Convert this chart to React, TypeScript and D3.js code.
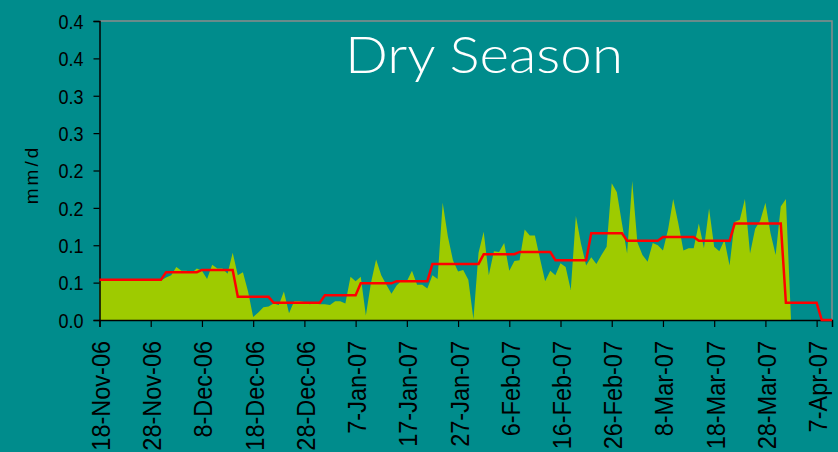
import { useEffect, useRef } from "react";
import * as d3 from "d3";

const startDate = "2006-11-18";
const endDate = "2007-04-10";

// daily values (mm/d), one per day from 18-Nov-06
const dailyRain = [
  0.053, 0.053, 0.053, 0.053, 0.053, 0.053, 0.053, 0.053, 0.053, 0.053, 0.053, 0.053, 0.053,
  0.057, 0.06, 0.071, 0.066, 0.066, 0.063, 0.069, 0.066, 0.055, 0.074, 0.069, 0.069, 0.062, 0.09,
  0.06, 0.064, 0.038, 0.004, 0.01, 0.017, 0.018, 0.022, 0.02, 0.038, 0.009, 0.025, 0.025, 0.024,
  0.021, 0.022, 0.021, 0.021, 0.02, 0.025, 0.025, 0.022, 0.058, 0.052, 0.058, 0.006, 0.05, 0.081,
  0.06, 0.047, 0.035, 0.046, 0.053, 0.052, 0.066, 0.047, 0.047, 0.042, 0.06, 0.055, 0.157, 0.112,
  0.08, 0.065, 0.067, 0.054, 0.001, 0.09, 0.118, 0.06, 0.092, 0.091, 0.103, 0.066, 0.079, 0.08,
  0.121, 0.113, 0.113, 0.082, 0.052, 0.066, 0.06, 0.076, 0.071, 0.04, 0.139, 0.102, 0.073, 0.084,
  0.075, 0.087, 0.098, 0.183, 0.171, 0.129, 0.089, 0.186, 0.104, 0.087, 0.078, 0.103, 0.1, 0.093,
  0.121, 0.162, 0.129, 0.093, 0.096, 0.096, 0.129, 0.096, 0.149, 0.098, 0.092, 0.107, 0.073, 0.131,
  0.134, 0.162, 0.089, 0.122, 0.133, 0.157, 0.116, 0.087, 0.152, 0.162, 0,
];

// period means (red line)
const periodStart = [
  "2006-11-18", "2006-12-01", "2006-12-08", "2006-12-15", "2006-12-22", "2007-01-01", "2007-01-08",
  "2007-01-15", "2007-01-22", "2007-02-01", "2007-02-08", "2007-02-15", "2007-02-22", "2007-03-01",
  "2007-03-08", "2007-03-15", "2007-03-22", "2007-04-01", "2007-04-08",
];
const periodEnd = [
  "2006-11-30", "2006-12-07", "2006-12-14", "2006-12-21", "2006-12-31", "2007-01-07", "2007-01-14",
  "2007-01-21", "2007-01-31", "2007-02-07", "2007-02-14", "2007-02-21", "2007-02-28", "2007-03-07",
  "2007-03-14", "2007-03-21", "2007-03-31", "2007-04-07", "2007-04-10",
];
const periodMean = [
  0.054, 0.064, 0.067, 0.031, 0.023, 0.033, 0.049, 0.052, 0.075, 0.088, 0.091, 0.08, 0.116, 0.106,
  0.111, 0.106, 0.129, 0.023, 0,
];

const xTickDates = [
  "2006-11-18", "2006-11-28", "2006-12-08", "2006-12-18", "2006-12-28", "2007-01-07", "2007-01-17",
  "2007-01-27", "2007-02-06", "2007-02-16", "2007-02-26", "2007-03-08", "2007-03-18", "2007-03-28",
  "2007-04-07",
];
const yTicks = [0, 0.05, 0.1, 0.15, 0.2, 0.25, 0.3, 0.35, 0.4];

const W = 838;
const H = 452;
const margin = { top: 21, right: 6, bottom: 132, left: 99.5 };

export default function App() {
  const ref = useRef<SVGSVGElement>(null);

  useEffect(() => {
    if (!ref.current) return;
    const svg = d3.select(ref.current);
    svg.selectAll("*").remove();

    const parse = d3.timeParse("%Y-%m-%d");
    const t0 = parse(startDate)!;

    const x = d3.scaleTime()
      .domain([t0, parse(endDate)!])
      .range([margin.left, W - margin.right]);
    const y = d3.scaleLinear()
      .domain([0, 0.4])
      .range([H - margin.bottom, margin.top]);

    svg.append("rect").attr("width", W).attr("height", H).attr("fill", "#008c8c");

    // rainfall area
    const area = d3.area<number>()
      .x((_, i) => x(d3.timeDay.offset(t0, i)))
      .y0(y(0))
      .y1((d) => y(d));
    svg.append("path")
      .datum(dailyRain)
      .attr("fill", "#9ecb00")
      .attr("d", area);

    // frame (top + right)
    svg.append("path")
      .attr("d", `M${x.range()[0]},${y(0.4)}H${x.range()[1]}V${y(0)}`)
      .attr("fill", "none")
      .attr("stroke", "#8a8a8a")
      .attr("stroke-width", 1.5);

    // y axis
    svg.append("g")
      .attr("transform", `translate(${margin.left},0)`)
      .call(d3.axisLeft(y).tickValues(yTicks).tickSize(6).tickPadding(16)
        .tickFormat((d) => (Math.round((d as number) * 10) / 10).toFixed(1)))
      .call((g) => {
        g.select(".domain").attr("stroke", "#000").attr("stroke-width", 1.5);
        g.selectAll(".tick line").attr("stroke", "#000").attr("stroke-width", 1.2);
        g.selectAll(".tick text")
          .attr("fill", "#000")
          .attr("font-family", "'Liberation Sans', Arial, sans-serif")
          .attr("font-size", "18px")
          .attr("x", 0)
          .attr("dy", "0.36em")
          .attr("transform", "translate(-16,0) scale(1,1.12)");
      });

    // x axis
    svg.append("g")
      .attr("transform", `translate(0,${y(0)})`)
      .call(d3.axisBottom(x).tickValues(xTickDates.map((s) => parse(s)!)).tickSize(7)
        .tickFormat((d) => d3.timeFormat("%-d-%b-%y")(d as Date)))
      .call((g) => {
        g.select(".domain").attr("stroke", "#000").attr("stroke-width", 1.5);
        g.selectAll(".tick line").attr("stroke", "#000").attr("stroke-width", 1.2);
        g.selectAll(".tick text")
          .attr("fill", "#000")
          .attr("font-family", "'Liberation Sans', Arial, sans-serif")
          .attr("font-size", "23.5px")
          .attr("text-anchor", "end")
          .attr("x", 0)
          .attr("y", 0)
          .attr("dy", 0)
          .attr("transform", "translate(10,21) rotate(-90) scale(1,1.1)");
      });

    // period mean line
    const pts: [Date, number][] = [];
    periodMean.forEach((v, i) => {
      pts.push([parse(periodStart[i])!, v]);
      pts.push([parse(periodEnd[i])!, v]);
    });
    svg.append("path")
      .datum(pts)
      .attr("fill", "none")
      .attr("stroke", "#ff0000")
      .attr("stroke-width", 2.5)
      .attr("d", d3.line<[Date, number]>().x((d) => x(d[0])).y((d) => y(d[1])));

    // axis title
    svg.append("text")
      .attr("transform", `translate(38,${(y(0) + y(0.4)) / 2 + 4}) rotate(-90)`)
      .attr("text-anchor", "middle")
      .attr("font-family", "'Liberation Sans', Arial, sans-serif")
      .attr("font-size", "19px")
      .attr("letter-spacing", "3px")
      .attr("fill", "#000")
      .text("mm/d");

    // title
    svg.append("text")
      .attr("x", 345)
      .attr("y", 73)
      .attr("font-family", "Lato, 'Open Sans', sans-serif")
      .attr("font-weight", 300)
      .attr("font-size", "52px")
      .attr("fill", "#fff")
      .attr("textLength", 278)
      .attr("lengthAdjust", "spacingAndGlyphs")
      .text("Dry Season");
  }, []);

  return (
    <svg
      ref={ref}
      width={W}
      height={H}
      style={{ position: "absolute", left: 0, top: 0, display: "block" }}
    />
  );
}
